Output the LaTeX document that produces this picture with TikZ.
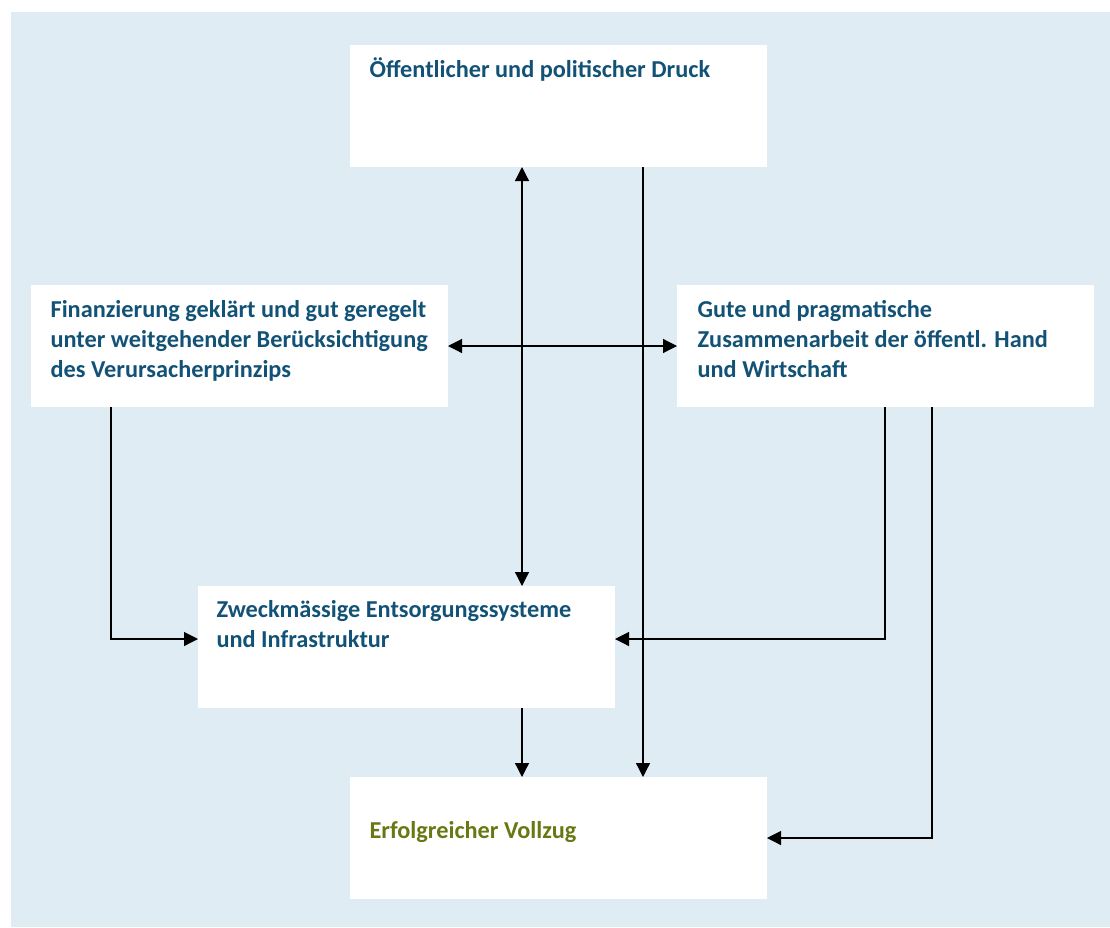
\documentclass[tikz,border=0pt]{standalone}
\usepackage{fontspec}
\setmainfont{Carlito}
\usetikzlibrary{arrows.meta}
\definecolor{panel}{RGB}{223,236,243}
\definecolor{textblue}{RGB}{18,82,118}
\definecolor{textgreen}{RGB}{104,120,18}
\begin{document}
\begin{tikzpicture}[
  x = 1pt, y = -1pt,
  box/.style = {
    shape = rectangle,
    fill = white,
    minimum width = 417pt,
    minimum height = 122pt,
    inner sep = 0pt,
    outer sep = 0pt,
    anchor = north west,
  },
  boxtext/.style = {
    anchor = base west,
    inner sep = 0pt,
    align = left,
    text = textblue,
    font = \fontsize{24.3}{30}\selectfont\bfseries,
  },
  every path/.style = {
    line width = 1.2pt
  },
  arr/.style = {
    -{Triangle[length = 14pt, width = 14pt]}
  },
  dblarr/.style = {
    {Triangle[length = 14pt, width = 14pt]}-{Triangle[length = 14pt, width = 14pt]}
  }
]
  \useasboundingbox (0, 0) rectangle (1110, 927);
  \fill[panel] (11, 12) rectangle (1110, 927);

  \node[box] (druck) at (350, 45) {};
  \node[box] (finanz) at (31, 285) {};
  \node[box] (zusammen) at (677, 285) {};
  \node[box] (anlagen) at (198, 586) {};
  \node[box] (vollzug) at (350, 777) {};

  % base of a text node is the baseline of its last line
  \node[boxtext] (tdruck) at (369, 77) {Öffentlicher und politischer Druck};
  \node[boxtext] (tfinanz) at (50, 377) {Finanzierung geklärt und gut geregelt\\unter weitgehender Berücksichtigung\\des Verursacherprinzips};
  \node[boxtext] (tzusammen) at (697, 377) {Gute und pragmatische\\Zusammenarbeit der öffentl. Hand\\und Wirtschaft};
  \node[boxtext] (tanlagen) at (216, 647) {Zweckmässige Entsorgungssysteme\\und Infrastruktur};
  \node[boxtext, text = textgreen] (tvollzug) at (369, 838) {Erfolgreicher Vollzug};

  \coordinate (v1) at (522, 0);
  \coordinate (v2) at (643, 0);
  \coordinate (v3) at (111, 0);
  \coordinate (v4) at (885, 0);
  \coordinate (v5) at (932, 0);

  \draw[dblarr] (druck.south -| v1) -- (anlagen.north -| v1);
  \draw[arr] (druck.south -| v2) -- (vollzug.north -| v2);
  \draw[dblarr] (finanz.east) -- (zusammen.west);
  \draw[arr] (finanz.south -| v3) |- ([yshift = 8pt]anlagen.west);
  \draw[arr] (zusammen.south -| v4) |- ([yshift = 8pt]anlagen.east);
  \draw[arr] (zusammen.south -| v5) |- (vollzug.east);
  \draw[arr] (anlagen.south -| v1) -- (vollzug.north -| v1);
\end{tikzpicture}
\end{document}
